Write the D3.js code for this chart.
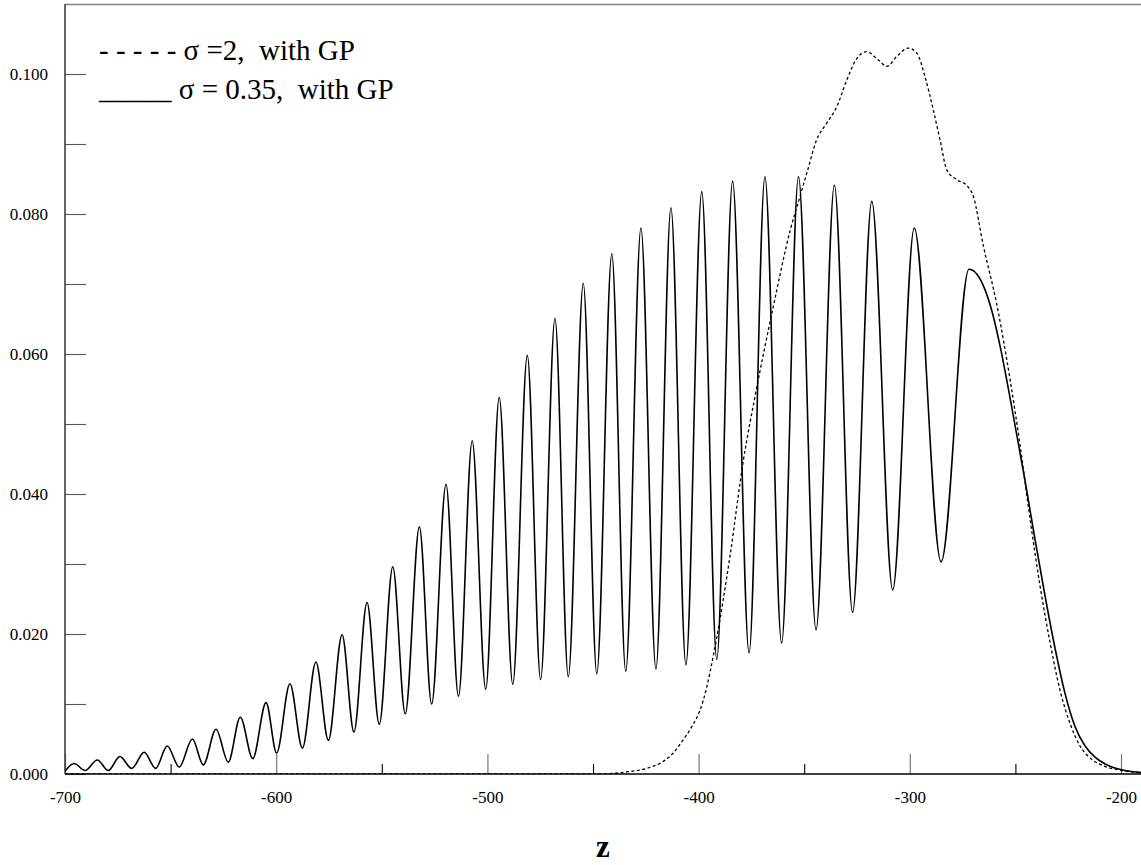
<!DOCTYPE html>
<html><head><meta charset="utf-8">
<script src="https://cdn.jsdelivr.net/npm/d3@7"></script>
<style>
html,body{margin:0;padding:0;background:#fff;}
svg{display:block;}
text{font-family:"Liberation Serif","Times New Roman",serif;fill:#000;}
</style></head>
<body>
<script>
// ---- data ----
const solidZ = [-700, -695.7, -690.5, -684.7, -679.5, -674.0, -668.4, -662.5, -657.1, -651.6, -645.9, -639.7, -634.5, -628.5, -622.7, -617.0, -611.1, -604.8, -599.8, -593.5, -587.6, -581.2, -575.3, -568.8, -563.2, -557.0, -551.2, -544.8, -538.9, -532.2, -526.4, -519.6, -513.7, -507.2, -500.8, -494.4, -488.0, -481.1, -474.8, -468.0, -461.7, -454.6, -448.2, -441.1, -434.5, -427.3, -420.2, -413.1, -406.0, -398.5, -391.4, -383.9, -376.1, -368.6, -360.7, -352.7, -344.4, -335.7, -327.1, -318.0, -308.1, -297.9, -285.2, -272.0, -268.2, -264.4, -261.1, -257.3, -251.6, -245.5, -240.7, -236.0, -231.25, -226.5, -221.8, -217.0, -212.3, -205.2, -198.1, -190.5];
const solidV = [0.0004, 0.0015, 0.0005, 0.0020, 0.0005, 0.0025, 0.0008, 0.0031, 0.0008, 0.0040, 0.0010, 0.0050, 0.0013, 0.0064, 0.0017, 0.0081, 0.0022, 0.0102, 0.0030, 0.0129, 0.0037, 0.0160, 0.0048, 0.0199, 0.0060, 0.0245, 0.0071, 0.0296, 0.0086, 0.0353, 0.0100, 0.0414, 0.0111, 0.0476, 0.0121, 0.0538, 0.0128, 0.0598, 0.0135, 0.0651, 0.0139, 0.0701, 0.0143, 0.0743, 0.0147, 0.0780, 0.0150, 0.0809, 0.0156, 0.0832, 0.0164, 0.0847, 0.0173, 0.0853, 0.0187, 0.0853, 0.0206, 0.0841, 0.0231, 0.0818, 0.0263, 0.0780, 0.0303, 0.0721, 0.0714, 0.0692, 0.0661, 0.0612, 0.0522, 0.0420, 0.0335, 0.0255, 0.0180, 0.0115, 0.0068, 0.0040, 0.0024, 0.0011, 0.0005, 0.0002];

const dashZ = [-700, -450, -440, -434.0, -424.6, -416.7, -412.0, -408.0, -404.1, -397.8, -391.4, -385.1, -378.8, -373.3, -364.6, -356.7, -352.0, -348.8, -344.1, -339.3, -334.6, -329.9, -325.1, -320.4, -314.9, -310.9, -306.2, -300.7, -296.7, -292.8, -288.9, -285.7, -282.5, -277.8, -273.1, -269.9, -265.2, -258.9, -252.6, -247.8, -243.1, -238.4, -233.6, -228.9, -224.1, -219.4, -214.7, -207.6, -199.5, -190.5];
const dashV = [0, 0, 0.0001, 0.0003, 0.0008, 0.0018, 0.0030, 0.0046, 0.0063, 0.0105, 0.0195, 0.0312, 0.0448, 0.0539, 0.0668, 0.0776, 0.0825, 0.0858, 0.0906, 0.0930, 0.0953, 0.0991, 0.1022, 0.1032, 0.1020, 0.1011, 0.1025, 0.1037, 0.1030, 0.0996, 0.0949, 0.0906, 0.0863, 0.0849, 0.0841, 0.0825, 0.0755, 0.0672, 0.0565, 0.0470, 0.0365, 0.0270, 0.0188, 0.0120, 0.0072, 0.0040, 0.0023, 0.0011, 0.0005, 0.0002];

const xMajorTicks = [-700, -600, -500, -400, -300, -200];
const xMinorTicks = [-650, -550, -450, -350, -250];
const yTicks = [0, 0.01, 0.02, 0.03, 0.04, 0.05, 0.06, 0.07, 0.08, 0.09, 0.10];
const yLabelTicks = [0, 0.02, 0.04, 0.06, 0.08, 0.10];
const legendLines = ["- - - - - \u03C3 =2,  with GP", "_____ \u03C3 = 0.35,  with GP"];
const xTitle = "z";

// ---- layout ----
const W = 1141, H = 865;
const pL = 65, pR = 1141, pT = 4, pB = 774;
const serif = "'Liberation Serif', 'Times New Roman', serif";

const svg = d3.select("body").append("svg").attr("width", W).attr("height", H);

const x = d3.scaleLinear().domain([-700, -200]).range([pL, 1121]);
const y = d3.scaleLinear().domain([0, 0.10]).range([pB, 74]);

svg.append("defs").append("clipPath").attr("id", "clip")
  .append("rect").attr("x", pL).attr("y", pT).attr("width", pR - pL).attr("height", pB - pT);

// x axis: major ticks with labels
const gxMaj = svg.append("g").attr("transform", `translate(0,${pB})`)
  .call(d3.axisBottom(x).tickValues(xMajorTicks).tickSize(-20).tickPadding(17).tickFormat(d => String(d)));
gxMaj.select(".domain").remove();
gxMaj.selectAll(".tick line").attr("stroke", "#777").attr("stroke-width", 1.2);
gxMaj.selectAll(".tick text").style("font-size", "17px").style("font-family", serif);

const gxMin = svg.append("g").attr("transform", `translate(0,${pB})`)
  .call(d3.axisBottom(x).tickValues(xMinorTicks).tickSize(-10).tickFormat(""));
gxMin.select(".domain").remove();
gxMin.selectAll(".tick line").attr("stroke", "#000").attr("stroke-width", 1.1);

// y axis
const gy = svg.append("g").attr("transform", `translate(${pL},0)`)
  .call(d3.axisLeft(y).tickValues(yTicks).tickSize(-21).tickPadding(17)
    .tickFormat(d => yLabelTicks.some(v => Math.abs(v - d) < 1e-9) ? d3.format(".3f")(d) : ""));
gy.select(".domain").remove();
gy.selectAll(".tick line").attr("stroke", "#555").attr("stroke-width", 1.1);
gy.selectAll(".tick text").style("font-size", "17px").style("font-family", serif);

// frame lines
svg.append("line").attr("x1", pL).attr("x2", pR).attr("y1", pT + 0.5).attr("y2", pT + 0.5)
  .attr("stroke", "#808080").attr("stroke-width", 1.5);
svg.append("line").attr("x1", pL).attr("x2", pL).attr("y1", pT).attr("y2", pB)
  .attr("stroke", "#333").attr("stroke-width", 1.5);
svg.append("line").attr("x1", pL).attr("x2", pR).attr("y1", pB).attr("y2", pB)
  .attr("stroke", "#000").attr("stroke-width", 1.5);

// curves
const solid = solidZ.map((z, i) => [z, solidV[i]]);
const dashed = dashZ.map((z, i) => [z, dashV[i]]);
const line = d3.line().x(d => x(d[0])).y(d => y(d[1])).curve(d3.curveMonotoneX);

const plot = svg.append("g").attr("clip-path", "url(#clip)");
plot.append("path").datum(dashed).attr("d", line)
  .attr("fill", "none").attr("stroke", "#000").attr("stroke-width", 1.3).attr("stroke-dasharray", "3,2.5");
plot.append("path").datum(solid).attr("d", line)
  .attr("fill", "none").attr("stroke", "#000").attr("stroke-width", 1.6);

// legend
svg.append("g").selectAll("text").data(legendLines).join("text")
  .attr("x", 99).attr("y", (d, i) => 60 + i * 39)
  .attr("xml:space", "preserve").style("white-space", "pre")
  .style("font-family", serif).style("font-size", "29px").text(d => d);

// axis title
svg.append("text").attr("x", (pL + pR) / 2).attr("y", 857).attr("text-anchor", "middle")
  .style("font-family", serif).style("font-size", "31px").style("font-weight", "bold").text(xTitle);
</script>
</body></html>
